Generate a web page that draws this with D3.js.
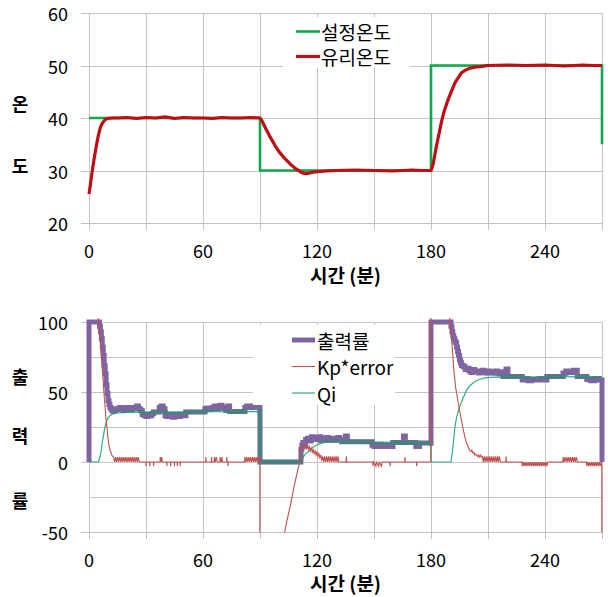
<!DOCTYPE html>
<html>
<head>
<meta charset="UTF-8">
<style>
body { margin: 0; background: #fff; }
text { font-family: "Noto Sans CJK KR", "Noto Sans", sans-serif; fill: #000; }
.grid line { stroke: #c4c4c4; stroke-width: 1; shape-rendering: crispEdges; }
.tick { font-size: 18px; }
.title { font-size: 19px; font-weight: bold; }
.ytitle { font-size: 18px; font-weight: bold; }
.legend text { font-size: 19px; }
</style>
</head>
<body>
<svg id="chart" width="608" height="597"></svg>
<script src="https://d3js.org/d3.v7.min.js"></script>
<script>

// ---- data (minutes, value) ----
var xTickLabels = [0, 60, 120, 180, 240];

// upper chart: set point and glass temperature (deg C)
var setPoint = [[0,40],[90,40],[90,30],[180,30],[180,50],[270,50],[270,35]];
var glassTemp = [[0,25.5],[1,28],[2,30.6],[3,32.9],[4,35],[5,36.8],[6,38.2],[7,39],[8,39.5],[9,39.8],[10,39.9],[12,40],
  [15,40],[20,40.1],[25,39.9],[30,40.1],[35,40],[40,40.2],[45,39.9],[50,40.1],[55,40],[60,40],[65,39.9],[70,40.1],[75,40],[80,40],[85,40.1],[90,40],
  [91,39.5],[93,38],[95,36.6],[98,34.7],[100,33.6],[103,32.3],[106,31.2],[109,30.3],[112,29.6],[114,29.4],[116,29.5],[118,29.7],[120,29.8],
  [125,29.9],[130,30],[140,30.1],[150,30],[160,29.9],[170,30.1],[175,30],[180,30],
  [181,31],[183,34.9],[185.6,39.4],[187,41.4],[189,43.5],[191,45.3],[192.6,46.7],[194,47.5],[196,48.6],[198,49.1],[200.5,49.5],[203,49.7],[206,49.8],
  [210,50],[220,50.1],[230,50],[240,50.1],[250,49.9],[260,50.1],[265,50],[270,50]];

// lower chart: output %, Kp*error, Qi
var outputPct = [[0,0],[0,100],[5,100],[5.5,97],[6,93],[6.5,88],[7,82],[7.5,76],[8,69],[8.5,63],[9,55],[9.5,49],[10,44],[10.5,41],[11,39],[11.5,38],[12,37],[12.5,36.5],
  [13,37],[14,38],[15,37.5],[16,39],[17,38],[18,37],[19,38.5],[20,39],[21,38],[22,37.5],[23,39],[24,38.5],[25,40],[26,38],[27,37],
  [28,34],[29,33],[30,32.5],[31,34],[32,33],[33,34.5],[34,35.8],[37,39],[38,40],[39,38],
  [40,33],[41,32.5],[42,34],[43,33],[44,32],[45,33.5],[46,34],[47,32.5],[48,33],[49,34],[50,33],[51,35.8],
  [61,38],[62,38.5],[63,37.5],[64,38],[65,39],[66,40],[67,38],[68,39.5],[69,40.5],[70,38.5],[71,39],[72,37],[73,40],[74,36],
  [82,39],[83,40],[84,39.5],[85,39],[86,40],[87,39.5],[88,40],[89,39],[90,0],
  [111.5,9],[112,12],[112.5,14],[113,13],[114,16],[115,17],[116,15],[117,18],[118,16.5],[119,17.5],[120,16],[121,18],[122,15.5],[123,17],[124,16],
  [125,17.5],[126,15.5],[127,16],[128,17],[129,15.5],[130,16.5],[131,17.5],[132,16],[133,14.5],[135,18.5],[136,14.5],
  [149,12],[150,11],[152,12.5],[154,11],[156,12],[158,11],[160,14],[165.5,18.5],[166.5,14],[172,11],[174,13.5],
  [180,100],[190.5,97],[191,93],[191.5,90],[192,88],[192.5,86],[193,85],[193.5,82],[194,79],[194.5,76],[195,73],[195.5,71],[196,69],[197,68],[198,66],
  [199,67],[200,65],[201,64],[202,66],[203,64.5],[204,65],[205,63.5],[206,64.5],[207,65.5],[208,64],[209,63.5],[210,65],[211,64],[212,64.5],[213,63.5],
  [214,65],[215,64],[216,63],[217,64.5],[218,61],[219.5,66.5],[220.5,61],
  [228,58.5],[230,59.5],[231,58],[233,59],[235,58.5],[237,59.5],[239,58.5],[241,61],
  [249.5,63.5],[251,65],[253,64],[255,65.5],[257,61],[262,59],[264,58],[266,59.5],[268,58.5],[270,0]];

var kpError = [[0,290],[1,240],[2,190],[3,145],[4,115],[5,100],[5.5,93],[6,86],[6.5,76],[7,66],[7.5,57],[8,47],[8.5,39],[9,30],[9.5,24],[10,17],[10.5,12],[11,9],[11.5,7],[12,5],[12.5,4],
  [13,3.5],[13.5,0],[14,3.5],[14.5,0],[15,3.5],[15.5,0],[16,3.5],[16.5,0],[17,3.5],[17.5,0],[18,3.5],[18.5,0],[19,3.5],[19.5,0],[20,3.5],[20.5,0],
  [21,3.5],[21.5,0],[22,3.5],[22.5,0],[23,3.5],[23.5,0],[24,3.5],[24.5,0],[25,3.5],[25.5,0],[26,3.5],[26.5,0],
  [29.9,0],[30,-3],[30.1,0],[31.9,0],[32,-3],[32.1,0],[33.9,0],[34,-3],[34.1,0],
  [37.4,0],[37.5,3.5],[37.8,0],[38.3,3.5],[38.6,0],
  [40.9,0],[41,-3],[41.1,0],[42.9,0],[43,-3],[43.1,0],[44.9,0],[45,-3],[45.1,0],[46.4,0],[46.5,-3],[46.6,0],[47.9,0],[48,-3],[48.1,0],
  [61.4,0],[61.5,3.5],[61.7,0],[64.4,0],[64.5,3.5],[64.7,0],[65.9,0],[66,3.5],[66.5,0],[67,3.5],[67.5,0],[68.9,0],[69,3.5],[69.5,0],[70,3.5],[70.2,0],
  [72.4,0],[72.5,3.5],[72.7,0],[73.1,0],[73.2,-3],[73.3,0],
  [81.9,0],[82,3.5],[82.5,0],[83,3.5],[83.5,0],[84,3.5],[84.5,0],[85,3.5],[85.5,0],[86,3.5],[86.5,0],[87,3.5],[87.5,0],[88,3.5],[88.5,0],[89,3.5],[89.5,0],[89.9,3.5],
  [90,-200],[95,-125],[97,-100],[100,-72],[101,-64],[102,-57],[103,-50],[104,-43],[105,-37],[106,-31],[107,-24],[108,-17],[109,-11],[110,-5],[111,0],
  [111.5,9],[112,12],[112.5,9],[113,12],[113.5,9],[114,12],[114.5,9],[115,12],[115.5,9],[116,11],[116.5,8],[117,10],[117.5,7],[118,9],[118.5,6],[119,8],
  [119.5,5],[120,7],[120.5,4],[121,6],[121.5,3],[122,5],[122.5,1],[123,4],[123.5,0],[124,4],[124.5,0],[125,4],[125.5,0],[126,4],[126.5,0],[127,4],
  [127.5,0],[128,4],[128.5,0],[129,4],[129.5,0],[130,4],[130.5,0],[131,4],[131.5,0],
  [135.3,0],[135.4,4],[135.6,0],[149.4,0],[149.5,-3],[149.7,0],[151,-3],[151.2,0],[152.5,-3],[152.7,0],[154,-3],[154.2,0],[158.3,0],[158.4,-3],[158.6,0],
  [166.2,0],[166.3,3.5],[166.5,0],[172.3,0],[172.4,-3],[172.6,0],
  [179.9,0],[180,400],[183,300],[185.6,212],[187,175],[189,130],[190,100],[191,85],[192,66],[193,53],[194,45],[195,37],[196,30],[197,23],[198,17],
  [198.8,13],[199.5,11],[200,9.5],[200.5,8],[201,7.5],[201.5,8.5],[202,6.5],[202.5,7],[203,5],[203.5,5.5],[204,5],[204.5,4],[205,5],[205.5,3.5],
  [206,5],[206.5,3.5],[207,4],[207.5,0],[208,4],[208.5,0],[209,4],[209.5,0],[210,4],[210.5,0],[211,4],[211.5,0],[212,4],[212.5,0],[213,4],[213.5,0],
  [214,4],[214.5,0],[215,4],[215.5,0],[216,4],[216.5,0],
  [219.4,0],[219.5,4],[219.7,0],
  [227.9,0],[228,-3],[228.5,0],[229,-3],[229.5,0],[230,-3],[230.5,0],[231,-3],[231.5,0],[232,-3],[232.5,0],[233,-3],[233.5,0],[234,-3],[234.5,0],
  [235,-3],[235.5,0],[236,-3],[236.5,0],[237,-3],[237.5,0],[238,-3],[238.5,0],[239,-3],[239.5,0],[240,-3],[240.5,0],[241,-3],[241.5,0],
  [249.4,0],[249.5,3.5],[250,0],[250.5,3.5],[251,0],[251.5,3.5],[252,0],[252.5,3.5],[253,0],[253.5,3.5],[254,0],[254.5,3.5],[255,0],[255.5,3.5],[256,0],[256.5,3.5],[257,0],
  [261.9,0],[262,-3],[262.5,0],[263,-3],[263.5,0],[264,-3],[264.5,0],[265,-3],[265.5,0],[266,-3],[266.5,0],[267,-3],[267.5,0],[268,-3],[268.5,0],[269,-3],[269.5,0],[269.9,-3],
  [270,-300]];

var qiPct = [[0,0],[5,0],[6,5],[6.5,9],[7,14],[7.5,18],[8,22],[8.5,25.5],[9,28],[9.5,30],[10,31.5],[11,33],[12,34],[13,34.5],[15,35],[18,35.3],[22,35.5],
  [30,35.7],[50,35.8],[70,35.9],[90,36],[90,0],[111,0],[112,2],[113,4],[114,6],[115,7],[116,8],[117,9.5],[118,10.5],[119,11.5],[120,12.2],[122,13.3],
  [125,14.3],[130,14.6],[140,14.5],[160,14],[180,13.5],[180,0],[190.5,0],[191.5,10],[192.5,24],[193.5,32],[194.5,37],[195.5,41],[197,46],[198.8,51.5],
  [200.5,54.5],[203,57.5],[206,59.3],[209,60.2],[215,60.6],[240,60.8],[270,61]];

var topLegend = ["설정온도", "유리온도"];
var botLegend = ["출력률", "Kp*error", "Qi"];

// ---- colours ----
var cSet = "#10a84e", cGlass = "#c00d14", cOut = "#8064a2", cKp = "#c0504d", cQi = "#2fb07a", cBoth = "#4c7f82";

var svg = d3.select("#chart");
var x = d3.scaleLinear().domain([0, 270]).range([89, 602]);
var yTop = d3.scaleLinear().domain([20, 60]).range([223, 13]);
var yBot = d3.scaleLinear().domain([-50, 100]).range([532, 322]);

function px(v) { return Math.round(v) + 0.5; }

// gridlines, ticks, labels, titles for one panel
function frame(y, gridVals, labelVals, xLabelY, titleY, yChars, yCharPos) {
  var g = svg.append("g").attr("class", "grid");
  var y0 = y.range()[0], y1 = y.range()[1];
  d3.range(0, 271, 30).forEach(function(t) {
    g.append("line").attr("x1", px(x(t))).attr("x2", px(x(t)))
      .attr("y1", y1).attr("y2", y0 + 7);
  });
  gridVals.forEach(function(v) {
    var major = labelVals.indexOf(v) >= 0;
    g.append("line").attr("x1", major ? 81 : x(0)).attr("x2", x(270) + 1)
      .attr("y1", px(y(v))).attr("y2", px(y(v)));
  });
  svg.append("g").selectAll("text").data(labelVals).join("text")
    .attr("class", "tick").attr("x", 68).attr("y", function(d) { return y(d); })
    .attr("text-anchor", "end").attr("dominant-baseline", "central")
    .text(function(d) { return d; });
  svg.append("g").selectAll("text").data(xTickLabels).join("text")
    .attr("class", "tick").attr("x", function(d) { return x(d); }).attr("y", xLabelY)
    .attr("text-anchor", "middle").text(function(d) { return d; });
  svg.append("text").attr("class", "title").attr("x", (x(0) + x(270)) / 2).attr("y", titleY)
    .attr("text-anchor", "middle").text("시간 (분)");
  yChars.forEach(function(c, i) {
    svg.append("text").attr("class", "ytitle").attr("x", 20).attr("y", yCharPos[i])
      .attr("text-anchor", "middle").attr("dominant-baseline", "central").text(c);
  });
}

// ---------- upper chart ----------
frame(yTop, [20, 30, 40, 50, 60], [20, 30, 40, 50, 60], 258, 283, ["온", "도"], [103, 165]);

var lineTop = d3.line().x(function(d) { return x(d[0]); }).y(function(d) { return yTop(d[1]); });
svg.append("path").datum(setPoint).attr("d", lineTop)
  .attr("fill", "none").attr("stroke", cSet).attr("stroke-width", 2.6);
svg.append("path").datum(glassTemp).attr("d", lineTop)
  .attr("fill", "none").attr("stroke", cGlass).attr("stroke-width", 3.2).attr("stroke-linejoin", "round");

var lg1 = svg.append("g").attr("class", "legend");
lg1.append("rect").attr("x", 283).attr("y", 17).attr("width", 127).attr("height", 51).attr("fill", "#fff");
[cSet, cGlass].forEach(function(c, i) {
  var yy = 31.5 + i * 25;
  lg1.append("line").attr("x1", 296).attr("x2", 320).attr("y1", yy).attr("y2", yy)
    .attr("stroke", c).attr("stroke-width", i ? 3.2 : 2.6);
  lg1.append("text").attr("x", 321).attr("y", yy).attr("dominant-baseline", "central").text(topLegend[i]);
});

// ---------- lower chart ----------
frame(yBot, [-50, -25, 0, 25, 50, 75, 100], [-50, 0, 50, 100], 567, 591, ["출", "력", "률"], [376, 435, 500]);

var defs = svg.append("defs");
defs.append("clipPath").attr("id", "clipBot").append("rect")
  .attr("x", 80).attr("y", 318).attr("width", 530).attr("height", 214.5);

var lineStep = d3.line().curve(d3.curveStepAfter)
  .x(function(d) { return x(d[0]); }).y(function(d) { return yBot(d[1]); });
var lineBot = d3.line().x(function(d) { return x(d[0]); }).y(function(d) { return yBot(d[1]); });

// where output and Qi sit on top of each other the picture shows a dark teal band
defs.append("mask").attr("id", "outMask").attr("maskUnits", "userSpaceOnUse")
  .attr("x", 0).attr("y", 0).attr("width", 608).attr("height", 597)
  .append("path").datum(outputPct).attr("d", lineStep)
  .attr("fill", "none").attr("stroke", "#fff").attr("stroke-width", 5);

var plot = svg.append("g").attr("clip-path", "url(#clipBot)");
plot.append("path").datum(qiPct).attr("d", lineBot)
  .attr("fill", "none").attr("stroke", cQi).attr("stroke-width", 1.2);
plot.append("path").datum(outputPct).attr("d", lineStep)
  .attr("fill", "none").attr("stroke", cOut).attr("stroke-width", 5);
plot.append("path").datum(qiPct).attr("d", lineBot).attr("mask", "url(#outMask)")
  .attr("fill", "none").attr("stroke", cBoth).attr("stroke-width", 4.5);
plot.append("path").datum(kpError).attr("d", lineBot)
  .attr("fill", "none").attr("stroke", cKp).attr("stroke-width", 1.1);

var lg2 = svg.append("g").attr("class", "legend");
lg2.append("rect").attr("x", 253).attr("y", 325).attr("width", 142).attr("height", 80).attr("fill", "#fff");
[[cOut, 5], [cKp, 1.1], [cQi, 1.2]].forEach(function(s, i) {
  var yy = 340 + i * 26.5;
  lg2.append("line").attr("x1", 292).attr("x2", 315).attr("y1", yy).attr("y2", yy)
    .attr("stroke", s[0]).attr("stroke-width", s[1]);
  lg2.append("text").attr("x", 317).attr("y", yy).attr("dominant-baseline", "central").text(botLegend[i]);
});

</script>
</body>
</html>
